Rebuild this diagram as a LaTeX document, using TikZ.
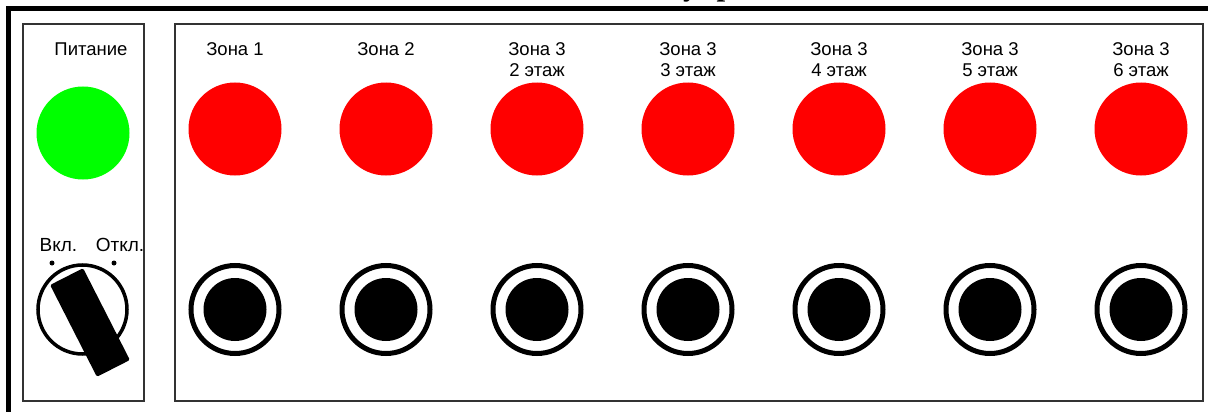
\documentclass[tikz,border=0pt]{standalone}
\usepackage{fontspec}
\setmainfont{Liberation Sans}
\newfontfamily\titlefont{Liberation Serif}
\begin{document}
\begin{tikzpicture}[x=1pt,y=-1pt,
  panel/.style={draw=black!80, line width=2pt},
  lamp/.style={circle, inner sep=0pt, minimum size=93pt},
  ring/.style={circle, draw=black, line width=5pt, inner sep=0pt, minimum size=88pt},
  knob/.style={circle, fill=black, inner sep=0pt, minimum size=63pt},
  lbl/.style={font=\fontsize{18.5}{21}\selectfont, align=center, anchor=north, inner sep=0pt},
  small/.style={font=\fontsize{19}{22}\selectfont, anchor=base, inner sep=0pt},
  dot/.style={circle, fill=black, inner sep=0pt, minimum size=5pt}]
\useasboundingbox (0,0) rectangle (1208,412);
\clip (0,0) rectangle (1208,412);
% title (cut off at the top edge, as in the reference)
\node[anchor=base west, inner sep=0pt, font=\titlefont\bfseries\fontsize{31}{31}\selectfont] (title) at (683,-4.5) {управления};
% outer frame
\draw[line width=4.5pt] (8.5,430) -- (8.5,8.5) -- (1230,8.5);
% panels
\draw[panel] (23,24) rectangle (144,401);
\draw[panel] (175,24) rectangle (1203,401);
% power
\node[lbl] (ptxt) at (91,43) {Питание};
\node[lamp, fill={rgb,255:red,0;green,255;blue,0}] (plamp) at (83,133) {};
% switch
\node[small] (on) at (58.5,251) {Вкл.};
\node[small] (off) at (120,251) {Откл.};
\node[dot] (don) at (52,263) {};
\node[dot] (doff) at (114,263) {};
\node[circle, draw=black, line width=3.5pt, inner sep=0pt, minimum size=89pt] (sw) at (82.5,309.5) {};
\fill[black, rounded corners=1.5pt] (50.1,285) -- (83.1,268.2) -- (129.9,360) -- (96.9,376.8) -- cycle;
% zones
\foreach \i/\x/\t in {1/235/{Зона 1}, 2/386/{Зона 2}, 3/537/{Зона 3\\2 этаж}, 4/688/{Зона 3\\3 этаж}, 5/839/{Зона 3\\4 этаж}, 6/990/{Зона 3\\5 этаж}, 7/1141/{Зона 3\\6 этаж}} {
  \node[lbl] (t\i) at (\x,42) {\t};
  \node[lamp, fill={rgb,255:red,255;green,0;blue,0}] (l\i) at (\x,129) {};
  \node[ring] (r\i) at (\x,309.5) {};
  \node[knob] (k\i) at (\x,309.5) {};
}
\end{tikzpicture}
\end{document}
